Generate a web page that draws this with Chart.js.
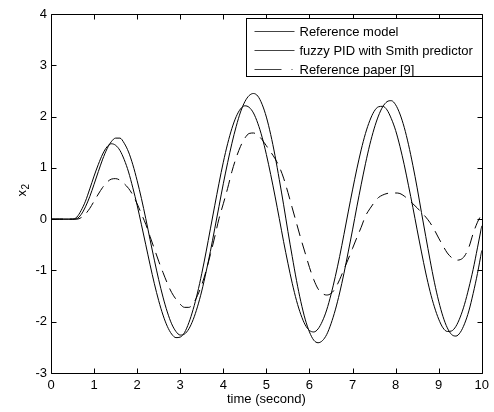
<!DOCTYPE html>
<html>
<head>
<meta charset="utf-8">
<script src="https://cdn.jsdelivr.net/npm/chart.js@4.4.0/dist/chart.umd.min.js"></script>
<style>
  html, body { margin: 0; padding: 0; background: #fff; }
  #wrap { width: 494px; height: 412px; }
</style>
</head>
<body>
<div id="wrap"><canvas id="c" width="494" height="412"></canvas></div>
<script>
// time axis (s) and the three x2 responses
const time = [0,0.1,0.2,0.3,0.4,0.5,0.6,0.7,0.8,0.9,1,1.1,1.2,1.3,1.4,1.5,1.6,1.7,1.8,1.9,2,
  2.1,2.2,2.3,2.4,2.5,2.6,2.7,2.8,2.9,3,3.1,3.2,3.3,3.4,3.5,3.6,3.7,3.8,3.9,4,
  4.1,4.2,4.3,4.4,4.5,4.6,4.7,4.8,4.9,5,5.1,5.2,5.3,5.4,5.5,5.6,5.7,5.8,5.9,6,
  6.1,6.2,6.3,6.4,6.5,6.6,6.7,6.8,6.9,7,7.1,7.2,7.3,7.4,7.5,7.6,7.7,7.8,7.9,8,
  8.1,8.2,8.3,8.4,8.5,8.6,8.7,8.8,8.9,9,9.1,9.2,9.3,9.4,9.5,9.6,9.7,9.8,9.9,10];

const refModel = [0,0,0,0,0,0,
  0.04,0.17,0.35,0.59,0.84,1.07,1.27,1.41,1.47,
  1.44,1.34,1.16,0.92,0.61,0.27,-0.11,-0.50,-0.89,-1.26,-1.59,-1.87,-2.09,-2.24,-2.31,
  -2.30,-2.21,-2.02,-1.76,-1.44,-1.06,-0.64,-0.19,0.26,0.70,1.11,1.47,1.77,2.00,2.15,2.21,
  2.18,2.07,1.87,1.60,1.26,0.87,0.45,0.01,-0.44,-0.86,-1.25,-1.59,-1.86,-2.06,-2.17,
  -2.20,-2.14,-1.99,-1.77,-1.47,-1.12,-0.73,-0.30,0.14,0.57,0.98,1.35,1.67,1.92,2.10,2.19,
  2.20,2.13,1.96,1.73,1.42,1.06,0.65,0.23,-0.21,-0.64,-1.05,-1.41,-1.71,-1.95,-2.12,-2.19,
  -2.18,-2.09,-1.91,-1.66,-1.34,-0.98,-0.56,-0.13];

const fuzzyPid = [0,0,0,0,0,0,
  0.01,0.09,0.24,0.44,0.68,0.93,1.17,1.37,1.51,1.58,
  1.58,1.48,1.31,1.06,0.75,0.40,0.01,-0.40,-0.80,-1.18,-1.52,-1.81,-2.04,-2.19,-2.26,
  -2.24,-2.14,-1.96,-1.71,-1.40,-1.03,-0.63,-0.19,0.25,0.69,1.10,1.48,1.81,2.09,2.29,2.41,2.45,
  2.40,2.24,1.99,1.65,1.24,0.77,0.28,-0.24,-0.73,-1.20,-1.61,-1.95,-2.20,-2.36,-2.41,
  -2.37,-2.25,-2.04,-1.77,-1.44,-1.06,-0.64,-0.21,0.24,0.67,1.08,1.45,1.76,2.01,2.19,2.29,
  2.31,2.23,2.05,1.79,1.45,1.05,0.61,0.13,-0.34,-0.80,-1.23,-1.60,-1.90,-2.12,-2.25,
  -2.28,-2.21,-2.04,-1.79,-1.45,-1.06,-0.61];

const refPaper = [0,0,0,0,0,0,0,
  0.03,0.10,0.21,0.35,0.49,0.62,0.72,0.78,0.79,
  0.76,0.69,0.60,0.47,0.30,0.10,-0.10,-0.34,-0.58,-0.82,-1.04,-1.25,-1.43,-1.56,-1.66,-1.72,
  -1.72,-1.65,-1.49,-1.28,-1.01,-0.69,-0.35,0.01,0.30,0.60,0.93,1.20,1.42,1.58,1.67,
  1.68,1.64,1.55,1.43,1.31,1.18,1.02,0.80,0.52,0.22,-0.08,-0.38,-0.66,-0.94,-1.18,-1.36,-1.45,-1.48,
  -1.45,-1.35,-1.18,-0.98,-0.78,-0.57,-0.36,-0.16,0.06,0.20,0.32,0.42,0.47,0.50,0.51,0.51,
  0.50,0.45,0.38,0.30,0.22,0.13,0.04,-0.07,-0.21,-0.37,-0.52,-0.66,-0.75,-0.80,-0.79,-0.72,
  -0.55,-0.28,-0.06,0.10];

const seriesNames = ['Reference model', 'fuzzy PID with Smith predictor', 'Reference paper [9]'];
const xTicks = [0,1,2,3,4,5,6,7,8,9,10];
const yTicks = [-3,-2,-1,0,1,2,3,4];

const FONT = '"Liberation Sans", Arial, sans-serif';
const pts = ys => time.map((t, i) => ({ x: t, y: ys[i] }));

const line = (label, ys, dash) => ({
  label, data: pts(ys),
  borderColor: '#000', borderWidth: 1, borderDash: dash || [],
  pointRadius: 0, fill: false, cubicInterpolationMode: 'monotone'
});

// box around the axes with inward ticks on all four sides, axis titles, legend
const frame = {
  id: 'frame',
  afterDraw(chart) {
    const { ctx, chartArea: a, scales: { x, y } } = chart;
    const L = Math.round(a.left) + 0.5, R = Math.round(a.right) + 0.5;
    const T = Math.round(a.top) + 0.5, B = Math.round(a.bottom) + 0.5;
    ctx.save();
    ctx.strokeStyle = '#000';
    ctx.lineWidth = 1;
    ctx.beginPath();
    ctx.rect(L, T, R - L, B - T);
    xTicks.forEach(v => {
      const px = Math.round(x.getPixelForValue(v)) + 0.5;
      ctx.moveTo(px, B); ctx.lineTo(px, B - 5);
      ctx.moveTo(px, T); ctx.lineTo(px, T + 5);
    });
    yTicks.forEach(v => {
      const py = Math.round(y.getPixelForValue(v)) + 0.5;
      ctx.moveTo(L, py); ctx.lineTo(L + 5, py);
      ctx.moveTo(R, py); ctx.lineTo(R - 5, py);
    });
    ctx.stroke();

    // axis titles
    ctx.fillStyle = '#000';
    ctx.font = '13px ' + FONT;
    ctx.textAlign = 'center';
    ctx.textBaseline = 'middle';
    ctx.fillText('time (second)', (a.left + a.right) / 2, 399);

    ctx.save();
    ctx.translate(26, (a.top + a.bottom) / 2 - 3);
    ctx.rotate(-Math.PI / 2);
    ctx.textAlign = 'left';
    ctx.textBaseline = 'alphabetic';
    ctx.font = '13px ' + FONT;
    ctx.fillText('x', -6, 0);
    ctx.font = '10px ' + FONT;
    ctx.fillText('2', 1, 3);
    ctx.restore();

    // legend box in the upper right corner
    const lw = 236, lh = 58;
    const lx = Math.round(a.right) - lw + 0.5, ly = Math.round(a.top) + 4.5;
    ctx.fillStyle = '#fff';
    ctx.fillRect(lx, ly, lw, lh);
    ctx.strokeRect(lx, ly, lw, lh);
    ctx.font = '13px ' + FONT;
    ctx.textAlign = 'left';
    ctx.textBaseline = 'middle';
    const rowDash = [[], [], [27, 10, 1, 40]];
    seriesNames.forEach((name, i) => {
      const ry = Math.round(ly + 12 + i * 19) + 0.5;
      ctx.strokeStyle = '#444';
      ctx.setLineDash(rowDash[i]);
      ctx.beginPath();
      ctx.moveTo(lx + 8, ry); ctx.lineTo(lx + 48, ry);
      ctx.stroke();
      ctx.setLineDash([]);
      ctx.fillStyle = '#000';
      ctx.fillText(name, lx + 53, ry + 1);
    });
    ctx.restore();
  }
};

new Chart(document.getElementById('c'), {
  type: 'line',
  data: {
    datasets: [
      line(seriesNames[0], refModel),
      line(seriesNames[1], fuzzyPid),
      line(seriesNames[2], refPaper, [12, 7])
    ]
  },
  options: {
    responsive: false,
    animation: false,
    devicePixelRatio: 1,
    layout: { padding: { top: 14, right: 7, left: 0, bottom: 0 } },
    plugins: { legend: { display: false }, tooltip: { enabled: false } },
    scales: {
      x: {
        type: 'linear', min: 0, max: 10,
        afterFit: s => { s.height = 39; },
        afterBuildTicks: s => { s.ticks = xTicks.map(v => ({ value: v })); },
        grid: { display: false, drawTicks: false },
        border: { display: false },
        ticks: { color: '#000', padding: 5, maxRotation: 0, autoSkip: false, font: { family: FONT, size: 13 } }
      },
      y: {
        type: 'linear', min: -3, max: 4,
        afterFit: s => { s.width = 51; },
        afterBuildTicks: s => { s.ticks = yTicks.map(v => ({ value: v })); },
        grid: { display: false, drawTicks: false },
        border: { display: false },
        ticks: { color: '#000', padding: 4, font: { family: FONT, size: 13 } }
      }
    }
  },
  plugins: [frame]
});
</script>
</body>
</html>
